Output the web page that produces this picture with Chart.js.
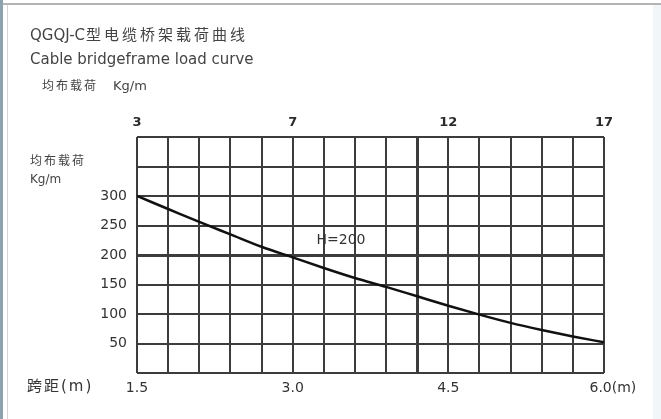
<!DOCTYPE html>
<html>
<head>
<meta charset="utf-8">
<script src="https://cdn.jsdelivr.net/npm/chart.js@4.4.1/dist/chart.umd.min.js"></script>
<style>
html, body { margin: 0; padding: 0; background: #fff; }
#wrap { width: 661px; height: 419px; position: relative; }
</style>
</head>
<body>
<div id="wrap"><canvas id="myChart"></canvas></div>
<script>
// span (m), one gridline every 0.3 m
var spans = [1.5, 1.8, 2.1, 2.4, 2.7, 3.0, 3.3, 3.6, 3.9, 4.2, 4.5, 4.8, 5.1, 5.4, 5.7, 6.0];
// uniform load (Kg/m) for H=200
var loads = [300, 278, 256, 235, 214, 196, 178, 161, 146, 130, 114, 99, 85, 73, 62, 52];

var bottomTicks = [1.5, 3.0, 4.5, 6.0];
var bottomLabels = ['1.5', '3.0', '4.5', '    6.0(m)'];
var topTicks = [1.5, 3.0, 4.5, 6.0];
var topLabels = ['3', '7', '12', '17'];
var loadTicks = [50, 100, 150, 200, 250, 300];

var curveName = 'H=200';
var curveLabelX = 3.23;
var curveLabelY = 225;

var FONT = '"DejaVu Sans", "Noto Sans CJK SC", sans-serif';
var gridColor = '#3c3c3c';

function text(c, str, x, y, size, spacing, color, weight) {
    c.font = (weight || 'normal') + ' ' + size + 'px ' + FONT;
    c.letterSpacing = (spacing || 0) + 'px';
    c.fillStyle = color || '#444';
    c.fillText(str, x, y);
    var w = c.measureText(str).width;
    c.letterSpacing = '0px';
    return w;
}

var texts = {
    id: 'texts',
    beforeDraw: function(chart) {
        var c = chart.ctx;
        c.save();
        c.fillStyle = '#b4b4b4';
        c.fillRect(0, 3, chart.width, 2);
        c.fillStyle = '#8ea2ae';
        c.fillRect(0, 0, 3, chart.height);
        c.fillStyle = '#d6d6d6';
        c.fillRect(7, 5, 1, chart.height - 5);
        c.fillStyle = '#f1f6f9';
        c.fillRect(653, 5, chart.width - 653, chart.height - 5);
        c.restore();
    },
    afterDraw: function(chart) {
        var c = chart.ctx;
        c.save();
        c.textBaseline = 'middle';
        c.textAlign = 'left';
        // heading
        var w = text(c, 'QGQJ-C', 30, 36, 15, 0, '#444');
        text(c, '型电缆桥架载荷曲线', 31 + w, 36, 15, 3, '#444');
        text(c, 'Cable bridgeframe load curve', 30, 60, 15, 0, '#444');
        text(c, '均布载荷', 42, 87, 12, 2, '#444');
        text(c, 'Kg/m', 113, 87, 13, 0, '#444');
        // y title
        text(c, '均布载荷', 30, 162, 12, 2, '#444');
        text(c, 'Kg/m', 30, 180, 12, 0, '#444');
        // x title
        text(c, '跨距(m)', 27, 387, 15, 2, '#333');
        // curve label
        var px = chart.scales.x.getPixelForValue(curveLabelX);
        var py = chart.scales.y.getPixelForValue(curveLabelY);
        text(c, curveName, px, py, 14, 0, '#333');
        c.restore();
    }
};

var ctx = document.getElementById('myChart').getContext('2d');
var myChart = new Chart(ctx, {
    type: 'line',
    data: {
        datasets: [{
            label: curveName,
            data: spans.map(function(s, i) { return { x: s, y: loads[i] }; }),
            borderColor: '#111',
            borderWidth: 2.5,
            pointRadius: 0,
            cubicInterpolationMode: 'monotone',
            fill: false,
            xAxisID: 'x',
            yAxisID: 'y'
        }]
    },
    options: {
        responsive: true,
        maintainAspectRatio: false,
        animation: false,
        layout: { padding: { left: 0, right: 57, top: 0, bottom: 0 } },
        plugins: {
            legend: { display: false },
            tooltip: { enabled: false }
        },
        scales: {
            x: {
                type: 'linear',
                position: 'bottom',
                min: 1.5,
                max: 6.0,
                afterBuildTicks: function(s) { s.ticks = spans.map(function(v) { return { value: v }; }); },
                afterFit: function(s) { s.height = 46; },
                grid: {
                    color: gridColor,
                    lineWidth: function(g) { return g.tick && g.tick.value === 4.2 ? 3 : 2; },
                    drawTicks: false
                },
                border: { display: false },
                ticks: {
                    autoSkip: false,
                    maxRotation: 0,
                    padding: 7,
                    color: '#333',
                    font: { family: FONT, size: 14 },
                    callback: function(v) {
                        var i = bottomTicks.indexOf(v);
                        return i < 0 ? '' : bottomLabels[i];
                    }
                }
            },
            x2: {
                type: 'linear',
                position: 'top',
                min: 1.5,
                max: 6.0,
                afterBuildTicks: function(s) { s.ticks = topTicks.map(function(v) { return { value: v }; }); },
                afterFit: function(s) { s.height = 137; },
                grid: { display: false, drawTicks: false },
                border: { display: false },
                ticks: {
                    autoSkip: false,
                    maxRotation: 0,
                    padding: 7,
                    color: '#2a2a2a',
                    font: { family: FONT, size: 13, weight: 'bold' },
                    callback: function(v, i) { return topLabels[i]; }
                }
            },
            y: {
                min: 0,
                max: 400,
                afterFit: function(s) { s.width = 137; },
                grid: {
                    color: gridColor,
                    lineWidth: function(g) { return g.tick && g.tick.value === 200 ? 3 : 2; },
                    drawTicks: false
                },
                border: { display: false },
                ticks: {
                    stepSize: 50,
                    padding: 10,
                    color: '#333',
                    font: { family: FONT, size: 14 },
                    callback: function(v) { return loadTicks.indexOf(v) >= 0 ? v : ''; }
                }
            }
        }
    },
    plugins: [texts]
});
</script>
</body>
</html>
